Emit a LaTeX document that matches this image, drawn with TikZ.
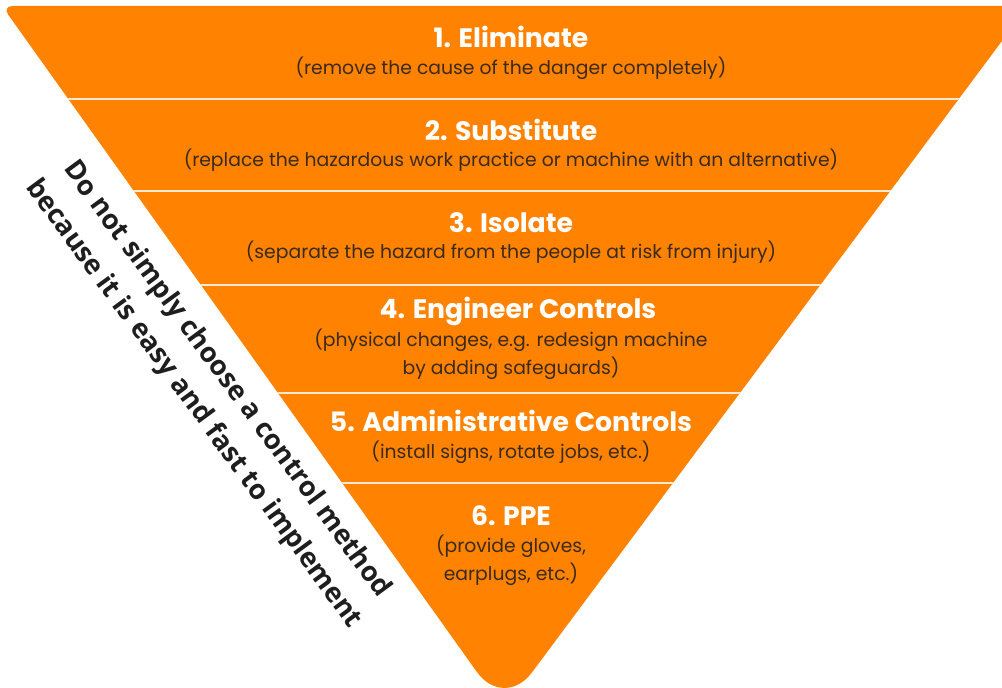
\documentclass[tikz,border=0pt]{standalone}
\usepackage{fontspec}
\setmainfont{Poppins}
\newfontfamily\sidefont{Open Sans}
\usepackage{xcolor}
\usepackage{tikz}
\definecolor{hazard}{HTML}{FF8300}
\definecolor{note}{HTML}{3B2A1C}
\definecolor{sep}{HTML}{FFE9D2}
\definecolor{side}{HTML}{1E1E1E}
\tikzset{
  tri/.style={fill=hazard},
  sepline/.style={draw=sep, line width=1.5pt},
  head/.style={text=white, font=\bfseries\fontsize{20}{23}\selectfont},
  sub/.style={text=note, font=\fontsize{14.1}{21}\selectfont, align=center},
  warn/.style={text=side, font=\sidefont\bfseries\fontsize{20.5}{31}\selectfont, align=center, rotate=-53.7}
}

\begin{document}
\begin{tikzpicture}[x=0.75pt, y=-0.75pt]
\useasboundingbox (0,0) rectangle (1002,688);
\clip (0,0) rectangle (1002,688);

% triangle
\fill[tri, rounded corners=8pt] (504,710) -- (2,6) -- (1028,6) [rounded corners=35pt] -- cycle;

% band lines
\begin{scope}
\clip (504,710) -- (2,6) -- (1028,6) -- cycle;
\foreach \y in {99,191,285,393,483}
  \draw[sepline] (0,\y) -- (1002,\y);
\end{scope}

% levels
\node[head] (elim) at (511,37) {1. Eliminate};
\node[sub] (elimtxt) at (511,68) {(remove the cause of the danger completely)};

\node[head] (subst) at (511,130) {2. Substitute};
\node[sub] (substtxt) at (511,160) {(replace the hazardous work practice or machine with an alternative)};

\node[head] (isol) at (511,223) {3. Isolate};
\node[sub] (isoltxt) at (511,252) {(separate the hazard from the people at risk from injury)};

\node[head] (engin) at (518,311) {4. Engineer Controls};
\node[sub] (engintxt) at (511,354) {(physical changes, e.g. redesign machine\\by adding safeguards)};

\node[head] (admin) at (511,421) {5. Administrative Controls};
\node[sub] (admintxt) at (511,452) {(install signs, rotate jobs, etc.)};

\node[head] (ppe) at (511,516) {6. PPE};
\node[sub] (ppetxt) at (511,560) {(provide gloves,\\earplugs, etc.)};

% side note
\node[warn] (note) at (210,392) {Do not simply choose a control method\\because it is easy and fast to implement};
\end{tikzpicture}
\end{document}
